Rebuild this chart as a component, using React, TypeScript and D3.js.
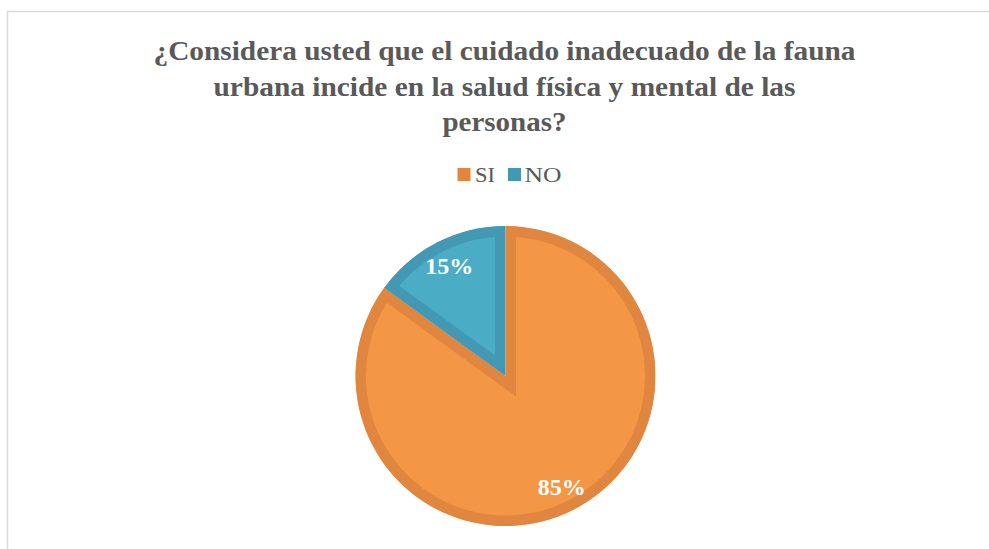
import React from "react";
import * as d3 from "d3";

const categories = ["SI", "NO"];
const values = [85, 15];
const labels = ["85%", "15%"];
const titleLines = [
  "¿Considera usted que el cuidado inadecuado de la fauna",
  "urbana incide en la salud física y mental de las",
  "personas?",
];
const titleWidths = [702, 582, 124];

const fillColors = ["#F39646", "#4BACC6"];
const strokeColors = ["#E0863F", "#4399B4"];

export default function App() {
  const W = 989;
  const H = 549;
  const cx = 505.5;
  const cy = 376;
  const R = 150;

  const pie = d3
    .pie<number>()
    .sort(null)
    .value((d) => d)
    .startAngle(0)
    .endAngle(2 * Math.PI);
  const arcs = pie(values);
  const arcGen = d3.arc<d3.PieArcDatum<number>>().innerRadius(0).outerRadius(R);
  const labelArc = d3
    .arc<d3.PieArcDatum<number>>()
    .innerRadius(124)
    .outerRadius(124);

  return (
    <svg
      width={W}
      height={H}
      style={{ position: "absolute", left: 0, top: 0, background: "#fff" }}
    >
      <rect x={7.5} y={11.5} width={1100} height={700} fill="#fff" stroke="#D9D9D9" strokeWidth={1.5} />
      <g fontFamily="'Liberation Serif', 'Times New Roman', serif" fontWeight="bold" fill="#595959" fontSize={28} textAnchor="middle">
        {titleLines.map((t, i) => (
          <text
            key={i}
            x={504.5}
            y={60 + i * 35.5}
            textLength={titleWidths[i]}
            lengthAdjust="spacingAndGlyphs"
          >
            {t}
          </text>
        ))}
      </g>
      {/* legend */}
      <g fontFamily="'Liberation Serif', serif" fontSize={21} fill="#595959">
        <rect x={457.5} y={168} width={13} height={13} fill={strokeColors[0]} />
        <text x={475} y={181.5} textLength={20} lengthAdjust="spacingAndGlyphs">{categories[0]}</text>
        <rect x={508} y={168} width={13} height={13} fill={strokeColors[1]} />
        <text x={524.5} y={181.5} textLength={37} lengthAdjust="spacingAndGlyphs">{categories[1]}</text>
      </g>
      <defs>
        {arcs.map((a, i) => (
          <clipPath id={`clip${i}`} key={i}>
            <path d={arcGen(a) || ""} />
          </clipPath>
        ))}
      </defs>
      <g transform={`translate(${cx},${cy})`}>
        {arcs.map((a, i) => (
          <path
            key={i}
            d={arcGen(a) || ""}
            fill={fillColors[i]}
            stroke={strokeColors[i]}
            strokeWidth={21}
            strokeLinejoin="miter"
            clipPath={`url(#clip${i})`}
          />
        ))}
        {arcs.map((a, i) => {
          const [lx, ly] = labelArc.centroid(a);
          return (
            <text
              key={"l" + i}
              x={lx}
              y={ly + 8.5}
              textAnchor="middle"
              fill="#fff"
              fontFamily="'Liberation Serif', serif"
              fontWeight="bold"
              fontSize={24}
            >
              {labels[i]}
            </text>
          );
        })}
      </g>
    </svg>
  );
}
